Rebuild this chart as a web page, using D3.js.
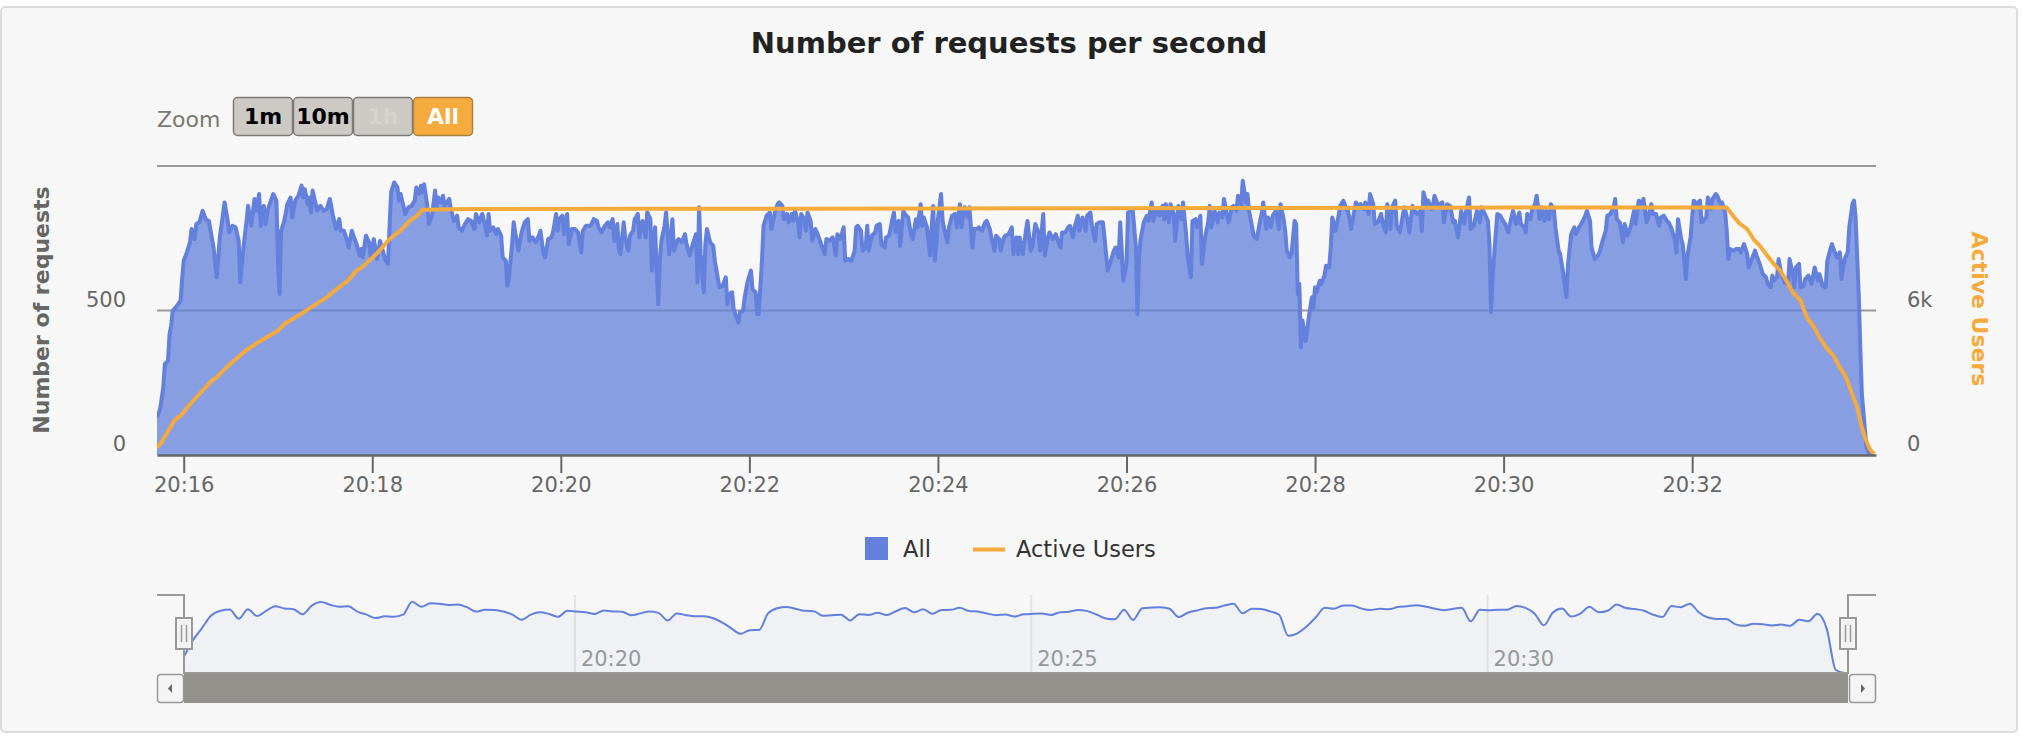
<!DOCTYPE html>
<html>
<head>
<meta charset="utf-8">
<script src="https://cdn.jsdelivr.net/npm/d3@7"></script>
<style>
  html, body { margin: 0; padding: 0; background: #fff; }
  svg { display: block; font-family: "DejaVu Sans", sans-serif; }
</style>
</head>
<body>
<svg width="2022" height="740"></svg>
<script>
// time range of the run (seconds after startTime)
var startTime = '20:15:43';
var spanSeconds = 1094;

var mainTicks = ['20:16', '20:18', '20:20', '20:22', '20:24', '20:26', '20:28', '20:30', '20:32'];
var navTicks = ['20:20', '20:25', '20:30'];
var requestTicks = [0, 500, 1000];
var userTicks = [0, 6000, 12000];
var zoomButtons = ['1m', '10m', '1h', 'All'];

// [seconds after start, requests per second]
var requests = [
  [0,130],[2,159],[4,234],[5,315],[7,326],[8,419],[9,447],[10,499],[12,511],[15,534],[16,609],[17,672],[19,701],[21,736],[22,782],[24,747],[25,799],[27,805],[29,845],[31,816],[33,810],[36,718],[38,615],[40,753],[43,874],[45,810],[46,770],[48,793],[50,788],[52,741],[53,597],[55,718],[57,810],[58,862],[60,793],[62,886],[63,845],[65,903],[66,793],[68,862],[69,799],[71,857],[74,903],[76,880],[77,672],[78,557],[79,776],[81,810],[83,868],[85,891],[86,822],[88,880],[90,897],[92,932],[93,891],[94,920],[96,868],[97,891],[98,839],[99,915],
  [101,868],[102,845],[104,862],[106,845],[108,851],[110,886],[112,828],[114,782],[116,816],[117,776],[119,776],[121,741],[122,718],[124,776],[125,759],[127,730],[129,690],[130,713],[131,684],[133,759],[135,736],[136,684],[138,747],[140,678],[142,741],[144,701],[145,678],[147,661],[148,788],[149,909],[151,943],[153,926],[154,880],[155,903],[157,857],[158,834],[160,857],[162,862],[164,880],[165,926],[167,903],[168,932],[169,909],[170,937],[172,862],[173,799],[175,828],[177,915],[178,857],[179,891],[181,874],[182,897],[183,862],[186,886],[187,851],[189,810],[191,828],[192,788],[194,776],[196,799],[198,816],
  [200,810],[202,782],[203,834],[205,805],[207,834],[209,788],[210,759],[211,834],[212,776],[214,788],[216,764],[217,782],[219,759],[220,684],[222,672],[223,586],[224,615],[226,730],[227,805],[228,770],[230,707],[232,770],[234,805],[236,816],[237,741],[239,753],[241,736],[243,759],[244,776],[246,695],[247,684],[249,747],[251,753],[252,770],[254,834],[255,776],[256,816],[258,828],[259,764],[261,834],[262,730],[264,782],[266,782],[268,770],[270,701],[271,776],[273,793],
  [276,793],[278,816],[280,810],[281,788],[283,770],[285,793],[287,805],[288,788],[290,816],[291,741],[293,799],[294,707],[295,695],[297,805],[298,753],[300,707],[301,759],[303,776],[304,816],[306,834],[307,753],[309,810],[310,788],[311,753],[312,840],[314,816],[315,638],[317,788],[318,638],[319,522],[320,672],[321,741],[323,793],[324,840],[325,764],[326,695],[328,816],[329,707],[331,741],[332,747],[334,736],[336,764],[337,730],[339,690],[341,730],[343,764],[344,597],[345,857],[346,695],[348,563],[349,730],[350,782],[352,736],[354,724],[355,672],[357,609],[358,580],[360,586],[362,615],[363,522],[364,557],[366,563],[367,505],[368,488],[370,459],[371,494],[373,499],[374,546],[376,603],[378,638],[379,574],[381,563],[382,488],[383,488],[385,672],[386,793],[388,828],[390,839],[391,782],[393,834],[395,868],[396,874],[398,862],[399,816],
  [401,834],[402,805],[404,834],[405,810],[406,845],[408,805],[409,753],[410,834],[412,816],[413,776],[414,839],[416,810],[417,741],[419,782],[420,770],[422,741],[423,724],[425,695],[426,747],[428,741],[430,753],[431,724],[432,690],[433,764],[435,747],[437,788],[438,672],[440,678],[442,672],[444,707],[445,788],[446,793],[448,776],[449,707],[451,718],[452,793],[453,707],[455,759],[457,770],[458,793],[460,799],[461,730],[463,718],[464,753],[466,759],[468,816],[469,839],[470,770],[472,810],[473,724],[475,845],[476,834],[478,822],[480,759],[481,747],[483,816],[484,788],[486,868],[487,793],[488,822],[490,788],[492,690],[493,788],[494,862],[495,672],[496,724],[497,816],[499,903],
  [500,810],[501,782],[503,736],[504,788],[506,828],[508,834],[509,788],[511,868],[512,788],[513,828],[514,857],[516,822],[517,857],[519,718],[520,782],[522,782],[523,788],[525,776],[527,805],[528,810],[530,782],[531,753],[533,707],[534,759],[536,747],[537,707],[539,753],[540,759],[542,764],[544,788],[545,695],[547,753],[548,695],
  [549,753],[551,695],[553,776],[554,810],[556,707],[557,718],[559,799],[561,770],[562,707],[564,834],[565,690],[567,753],[568,770],[570,747],[572,764],[573,747],[575,718],[576,770],[578,770],[580,788],[581,793],[583,753],[584,788],[586,828],[587,776],[589,822],[591,776],[592,828],[594,839],[595,793],[597,741],[598,799],
  [600,805],[602,805],[603,753],[605,638],[607,672],[609,707],[610,718],[612,684],[613,805],[615,603],[617,661],[618,839],[620,845],[621,845],[623,718],[624,488],[625,684],[626,747],[628,805],[630,828],[631,810],[633,874],[634,810],[636,851],[638,828],[640,862],[641,816],[642,868],[644,805],[645,868],[647,834],[648,741],[650,862],[652,816],[653,874],[655,759],[656,684],[658,615],[659,810],[661,816],[662,788],[664,828],[665,661],[667,753],[669,805],[670,862],[671,788],[673,845],[675,805],[676,839],[678,822],[679,886],[681,828],[682,805],[684,857],[685,862],[687,845],[688,897],[690,868],[691,949],[693,874],[694,903],[695,845],[697,788],[698,759],
  [700,747],[702,810],[703,834],[704,874],[706,782],[707,822],[709,788],[710,828],[712,845],[714,782],[715,868],[717,816],[718,776],[719,707],[721,684],[722,695],[724,810],[725,799],[726,557],[727,592],[728,372],[729,465],[731,395],[732,430],[733,476],[735,546],[736,511],[737,580],[738,563],[740,603],[741,592],[743,621],[744,655],[746,649],[747,718],[748,822],[750,776],[752,828],[753,862],[755,880],[757,851],[758,845],[760,782],[761,816],[763,874],[765,857],[766,868],[768,851],[769,874],[771,834],[772,903],[774,868],[775,799],[777,805],[779,834],[780,805],[782,770],[783,868],[785,782],[786,857],[788,880],[789,793],[791,770],[793,834],[794,857],[796,810],[797,770],[799,862],
  [801,839],[802,834],[804,845],[805,776],[806,909],[808,868],[809,880],[811,851],[812,862],[813,897],[815,868],[816,868],[818,874],[819,805],[821,868],[823,862],
  [825,805],[826,810],[828,753],[829,793],[830,845],[832,799],[833,839],[835,891],[836,782],[838,793],[840,845],[842,805],[843,857],[845,834],[847,810],[848,730],[849,494],[850,615],[852,764],[853,834],[855,828],[856,816],[858,799],[860,770],[861,799],[863,845],[865,799],[867,839],[868,799],[870,788],[871,770],[872,834],[874,816],[875,845],[877,868],[878,897],[880,816],[881,857],[883,810],[884,845],[886,816],[887,868],[889,851],[890,788],[892,707],[893,695],[895,626],[897,546],[898,661],
  [900,764],[902,788],[903,764],[905,788],[907,805],[909,828],[910,845],[912,810],[913,718],[915,678],[917,690],[918,701],[920,741],[922,776],[923,828],[925,834],[927,857],[928,886],[929,816],[931,805],[933,736],[934,799],[936,759],[938,793],[940,845],[941,799],[943,880],[945,868],[946,886],[948,805],[949,822],[951,868],[952,834],[954,834],[956,793],[957,822],[959,828],[961,810],[962,805],[964,782],[966,741],[967,701],[968,816],[970,747],[971,730],[973,609],[974,690],[976,753],[977,822],[978,880],[980,868],[982,880],[983,805],[984,810],[986,822],[987,891],[989,851],[990,886],[992,903],[993,897],[995,868],[996,874],[998,839],[999,776],
  [1000,678],[1001,713],[1003,707],[1005,713],[1007,713],[1008,701],[1010,730],[1012,695],[1013,649],[1015,678],[1017,707],[1018,690],[1020,661],[1022,626],[1024,615],[1025,592],[1027,580],[1028,621],[1029,603],[1031,615],[1032,678],[1034,621],[1036,597],[1038,592],[1039,678],[1041,626],[1042,580],[1043,649],[1045,661],[1046,580],[1048,586],[1049,609],[1051,621],[1053,592],[1054,621],[1055,649],[1057,603],[1058,626],[1060,586],[1062,580],[1063,672],[1065,713],[1066,730],[1067,713],[1069,684],[1071,701],[1072,609],[1074,678],[1076,701],[1077,788],[1079,868],[1080,880],[1081,822],[1083,557],[1084,372],[1085,211],[1087,84],[1088,27],[1090,3],[1092,0]
];

// [seconds after start, active users]
var activeUsers = [
  [0,320],[3,526],[6,872],[11,1426],[15,1633],[23,2256],[27,2533],[35,3086],[38,3225],[46,3751],[57,4360],[59,4443],[66,4747],[77,5163],[81,5439],[91,5827],[99,6173],[108,6547],[113,6823],[121,7211],[127,7654],[131,7820],[140,8374],[148,8969],[155,9315],[161,9730],[165,9896],[169,10186],
  [200,10210],[300,10220],[400,10230],[500,10240],[600,10250],[700,10260],[800,10270],[900,10275],[999,10280],
  [1003,9938],[1007,9619],[1012,9384],[1016,8968],[1020,8692],[1024,8346],[1029,7931],[1033,7654],[1037,7239],[1041,6754],[1046,6408],[1050,5716],[1054,5370],[1058,4886],[1063,4401],[1067,4125],[1071,3640],[1075,3225],[1078,2672],[1082,1979],[1085,1149],[1087,733],[1089,388],[1091,152],[1093,41]
];

var blue = '#6380dc',
  orange = '#f5aa3c';

var parseTime = d3.utcParse('%H:%M:%S'),
  parseTick = d3.utcParse('%H:%M'),
  t0 = parseTime(startTime),
  t1 = d3.utcSecond.offset(t0, spanSeconds);

var toPoint = function (d) {
  return { date: d3.utcSecond.offset(t0, d[0]), value: d[1] };
};
var reqData = requests.map(toPoint);
var userData = activeUsers.map(toPoint);

// navigator series: 6 second averages, like highcharts data grouping
var navData = d3.rollups(requests, function (v) {
    return d3.mean(v, function (d) { return d[1]; });
  }, function (d) { return Math.floor(d[0] / 6); })
  .sort(function (a, b) { return a[0] - b[0]; })
  .map(function (g) { return toPoint([g[0] * 6, g[1]]); });

var plot = { left: 157, right: 1876, top: 166, bottom: 455 };
var nav = { left: 184, right: 1848, top: 595, bottom: 673 };

var x = d3.scaleUtc().domain([t0, t1]).range([plot.left, plot.right]);
var yReq = d3.scaleLinear().domain([0, 1000]).range([plot.bottom, plot.top]);
var yUsers = d3.scaleLinear().domain([0, 12000]).range([plot.bottom, plot.top]);
var xNav = d3.scaleUtc().domain([t0, t1]).range([nav.left, nav.right]);
var yNav = d3.scaleLinear().domain([0, 1000]).range([nav.bottom, nav.top]);

var svg = d3.select('svg');

// chart container
svg.append('rect')
  .attr('x', 1).attr('y', 7)
  .attr('width', 2016).attr('height', 725)
  .attr('rx', 4)
  .attr('fill', '#f7f7f7')
  .attr('stroke', '#dcdcdc')
  .attr('stroke-width', 2);

svg.append('text')
  .attr('x', 1009).attr('y', 53)
  .attr('text-anchor', 'middle')
  .attr('font-size', 29)
  .attr('font-weight', 'bold')
  .attr('fill', '#222')
  .text('Number of requests per second');

// range selector
svg.append('text')
  .attr('x', 157).attr('y', 127)
  .attr('font-size', 22)
  .attr('fill', '#7a7872')
  .text('Zoom');

var btn = svg.selectAll('.btn')
  .data(zoomButtons)
  .enter().append('g')
  .attr('class', 'btn')
  .attr('transform', function (d, i) { return 'translate(' + (233.5 + i * 60) + ',97.5)'; });

btn.append('rect')
  .attr('width', 59).attr('height', 38)
  .attr('rx', 4)
  .attr('fill', function (d, i) { return i === 3 ? '#f5ab3d' : '#cdc9c5'; })
  .attr('stroke', function (d, i) { return i === 3 ? '#a98243' : '#7d7b78'; })
  .attr('stroke-width', 1.5);

btn.append('text')
  .attr('x', 29.5).attr('y', 26)
  .attr('text-anchor', 'middle')
  .attr('font-size', 22)
  .attr('font-weight', 'bold')
  .attr('fill', function (d, i) { return i === 3 ? '#fff' : (i === 2 ? '#d6d3cf' : '#000'); })
  .text(function (d) { return d; });

// grid lines
svg.selectAll('.grid')
  .data(requestTicks.slice(1))
  .enter().append('line')
  .attr('class', 'grid')
  .attr('x1', plot.left).attr('x2', plot.right)
  .attr('y1', function (d) { return yReq(d); })
  .attr('y2', function (d) { return yReq(d); })
  .attr('stroke', '#9a9a9a')
  .attr('stroke-width', 2);

svg.append('clipPath').attr('id', 'plotClip')
  .append('rect')
  .attr('x', plot.left).attr('y', plot.top - 10)
  .attr('width', plot.right - plot.left).attr('height', plot.bottom - plot.top + 10);

var g = svg.append('g').attr('clip-path', 'url(#plotClip)');

g.append('path')
  .datum(reqData)
  .attr('fill', blue)
  .attr('fill-opacity', 0.75)
  .attr('d', d3.area()
    .x(function (d) { return x(d.date); })
    .y0(yReq(0))
    .y1(function (d) { return yReq(d.value); }));

g.append('path')
  .datum(reqData)
  .attr('fill', 'none')
  .attr('stroke', blue)
  .attr('stroke-width', 4)
  .attr('stroke-linejoin', 'round')
  .attr('d', d3.line()
    .x(function (d) { return x(d.date); })
    .y(function (d) { return yReq(d.value); }));

g.append('path')
  .datum(userData)
  .attr('fill', 'none')
  .attr('stroke', orange)
  .attr('stroke-width', 4)
  .attr('stroke-linejoin', 'round')
  .attr('d', d3.line()
    .x(function (d) { return x(d.date); })
    .y(function (d) { return yUsers(d.value); }));

// x axis
var xAxis = svg.append('g')
  .attr('transform', 'translate(0,' + plot.bottom + ')')
  .call(d3.axisBottom(x)
    .tickValues(mainTicks.map(function (s) { return parseTick(s); }))
    .tickFormat(d3.utcFormat('%H:%M'))
    .tickSize(18)
    .tickSizeOuter(0)
    .tickPadding(4));

xAxis.attr('font-size', 21).attr('font-family', null).attr('color', '#666');
xAxis.select('.domain').attr('stroke-width', 2.5);
xAxis.selectAll('.tick line').attr('stroke-width', 2);
xAxis.selectAll('.tick text').attr('fill', '#666');

// y axis labels, last one hidden
svg.selectAll('.ylabel')
  .data(requestTicks.slice(0, -1))
  .enter().append('text')
  .attr('class', 'ylabel')
  .attr('x', 126)
  .attr('y', function (d) { return yReq(d) - 4; })
  .attr('text-anchor', 'end')
  .attr('font-size', 21)
  .attr('fill', '#666')
  .text(function (d) { return d; });

svg.selectAll('.ulabel')
  .data(userTicks.slice(0, -1))
  .enter().append('text')
  .attr('class', 'ulabel')
  .attr('x', 1907)
  .attr('y', function (d) { return yUsers(d) - 4; })
  .attr('font-size', 21)
  .attr('fill', '#666')
  .text(function (d) { return d === 0 ? '0' : d / 1000 + 'k'; });

svg.append('text')
  .attr('transform', 'translate(41,310) rotate(-90)')
  .attr('text-anchor', 'middle')
  .attr('dominant-baseline', 'central')
  .attr('font-size', 22)
  .attr('font-weight', 'bold')
  .attr('fill', '#666')
  .text('Number of requests');

svg.append('text')
  .attr('transform', 'translate(1979,309) rotate(90)')
  .attr('text-anchor', 'middle')
  .attr('dominant-baseline', 'central')
  .attr('font-size', 22)
  .attr('font-weight', 'bold')
  .attr('fill', orange)
  .text('Active Users');

// legend
svg.append('rect')
  .attr('x', 865).attr('y', 537)
  .attr('width', 23).attr('height', 23)
  .attr('fill', blue);
svg.append('text')
  .attr('x', 903).attr('y', 557)
  .attr('font-size', 22.5)
  .attr('fill', '#333')
  .text('All');
svg.append('line')
  .attr('x1', 973).attr('x2', 1005)
  .attr('y1', 549.5).attr('y2', 549.5)
  .attr('stroke', orange)
  .attr('stroke-width', 4);
svg.append('text')
  .attr('x', 1016).attr('y', 557)
  .attr('font-size', 22.5)
  .attr('fill', '#333')
  .text('Active Users');

// navigator
var navTickDates = navTicks.map(function (s) { return parseTick(s); });

svg.selectAll('.navgrid')
  .data(navTickDates)
  .enter().append('line')
  .attr('class', 'navgrid')
  .attr('x1', function (d) { return xNav(d); })
  .attr('x2', function (d) { return xNav(d); })
  .attr('y1', nav.top).attr('y2', nav.bottom)
  .attr('stroke', '#e3e3e3')
  .attr('stroke-width', 2);

svg.selectAll('.navlabel')
  .data(navTickDates)
  .enter().append('text')
  .attr('class', 'navlabel')
  .attr('x', function (d) { return xNav(d) + 6; })
  .attr('y', 666)
  .attr('font-size', 21)
  .attr('fill', '#999')
  .text(d3.utcFormat('%H:%M'));

svg.append('path')
  .datum(navData)
  .attr('fill', blue)
  .attr('fill-opacity', 0.05)
  .attr('d', d3.area()
    .curve(d3.curveMonotoneX)
    .x(function (d) { return xNav(d.date); })
    .y0(nav.bottom)
    .y1(function (d) { return yNav(d.value); }));

svg.append('path')
  .datum(navData)
  .attr('fill', 'none')
  .attr('stroke', blue)
  .attr('stroke-width', 2)
  .attr('d', d3.line()
    .curve(d3.curveMonotoneX)
    .x(function (d) { return xNav(d.date); })
    .y(function (d) { return yNav(d.value); }));

// outline of the selected range
svg.append('path')
  .attr('d', 'M' + plot.left + ',' + nav.top + 'H' + nav.left + 'V' + nav.bottom +
    'H' + nav.right + 'V' + nav.top + 'H' + plot.right)
  .attr('fill', 'none')
  .attr('stroke', '#999')
  .attr('stroke-width', 2);

var handle = svg.selectAll('.handle')
  .data([nav.left, nav.right])
  .enter().append('g')
  .attr('class', 'handle')
  .attr('transform', function (d) { return 'translate(' + d + ',618)'; });

handle.append('rect')
  .attr('x', -8).attr('width', 16).attr('height', 31)
  .attr('fill', '#f2f2f2')
  .attr('stroke', '#999')
  .attr('stroke-width', 2);

handle.selectAll('.grip')
  .data([-2.5, 2.5])
  .enter().append('line')
  .attr('x1', function (d) { return d; })
  .attr('x2', function (d) { return d; })
  .attr('y1', 7).attr('y2', 24)
  .attr('stroke', '#999')
  .attr('stroke-width', 1.5);

// scrollbar
svg.append('rect')
  .attr('x', nav.left).attr('y', 674)
  .attr('width', nav.right - nav.left).attr('height', 29)
  .attr('fill', '#93918c');

var arrow = svg.selectAll('.arrow')
  .data([{ x: plot.left, dir: -1 }, { x: nav.right + 1, dir: 1 }])
  .enter().append('g')
  .attr('class', 'arrow')
  .attr('transform', function (d) { return 'translate(' + d.x + ',674)'; });

arrow.append('rect')
  .attr('x', 0.5).attr('y', 0.5)
  .attr('width', 26).attr('height', 28)
  .attr('rx', 3)
  .attr('fill', '#f4f4f4')
  .attr('stroke', '#999')
  .attr('stroke-width', 1.5);

arrow.append('path')
  .attr('d', function (d) {
    return d.dir < 0 ? 'M11,14.5L15,10V19Z' : 'M16,14.5L12,10V19Z';
  })
  .attr('fill', '#666');
</script>
</body>
</html>
